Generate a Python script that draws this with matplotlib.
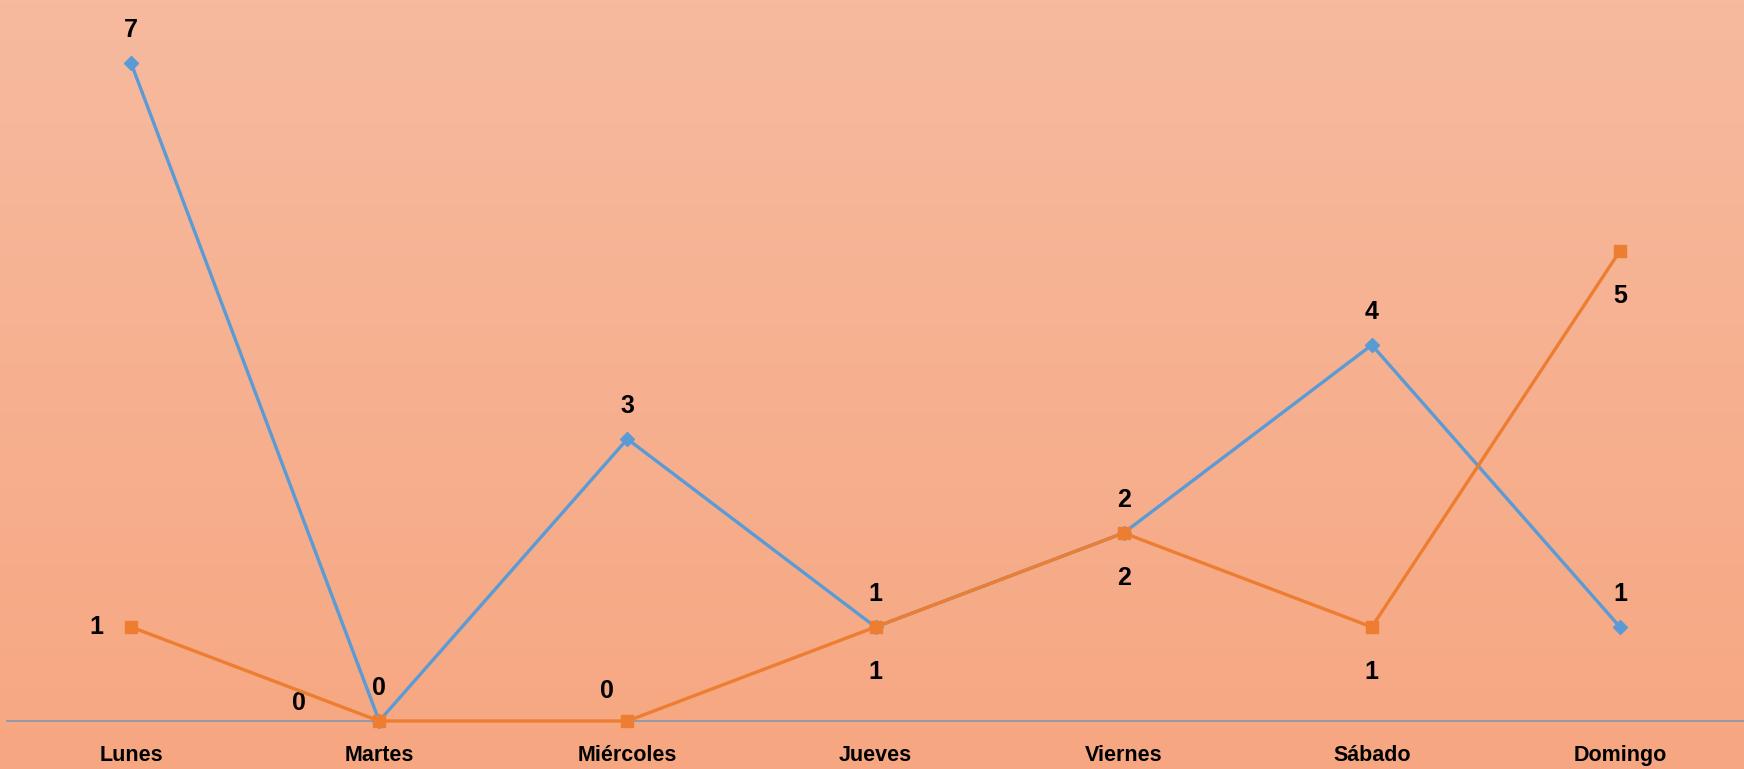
import matplotlib
matplotlib.use("Agg")
import matplotlib.pyplot as plt
import numpy as np
from matplotlib.colors import LinearSegmentedColormap

dias = ["Lunes", "Martes", "Miércoles", "Jueves", "Viernes", "Sábado", "Domingo"]
serie_azul = [7, 0, 3, 1, 2, 4, 1]
serie_naranja = [1, 0, 0, 1, 2, 1, 5]

# posiciones de etiquetas (dx, dy en pixeles, ha)
pos_azul = [(0, 33, "center")] * 7
pos_naranja = [(-28, 0, "right"), (-80, 18, "center"), (-20, 30, "center"),
               (0, -45, "center"), (0, -45, "center"), (0, -45, "center"), (0, -45, "center")]

fig = plt.figure(figsize=(17.44, 7.69), dpi=100)

# fondo degradado
bg = fig.add_axes([0, 0, 1, 1])
cmap = LinearSegmentedColormap.from_list("fondo", ["#F7BA9F", "#F6A781"])
bg.imshow(np.linspace(0, 1, 256).reshape(-1, 1), aspect="auto", cmap=cmap, extent=[0, 1, 0, 1])
bg.axis("off")

ax = fig.add_axes([7 / 1744, 48 / 769, 1 - 7 / 1744, 721 / 769])
ax.patch.set_alpha(0)
x = np.arange(len(dias))

ax.plot(x, serie_azul, color="#5B9BD5", lw=2.4, marker="D", ms=7, clip_on=False, zorder=3)
ax.plot(x, serie_naranja, color="#ED7D31", lw=2.4, marker="s", ms=8.5, clip_on=False, zorder=4)

fuente = dict(fontsize=18, fontweight="bold", color="black", family="Liberation Sans")
for i, v in enumerate(serie_azul):
    dx, dy, ha = pos_azul[i]
    ax.annotate(str(v), (x[i], v), xytext=(dx, dy), textcoords="offset pixels",
                ha=ha, va="center", annotation_clip=False, **fuente)
for i, v in enumerate(serie_naranja):
    dx, dy, ha = pos_naranja[i]
    ax.annotate(str(v), (x[i], v), xytext=(dx, dy), textcoords="offset pixels",
                ha=ha, va="center", annotation_clip=False, **fuente)

ax.set_xlim(-0.5, 6.5)
ax.set_ylim(0, 721 / 94)
ax.set_yticks([])
ax.set_xticks(x)
ax.set_xticklabels(dias, fontsize=15.5, fontweight="bold", family="Liberation Sans")
ax.tick_params(axis="x", length=0, pad=17)
for s in ["top", "right", "left"]:
    ax.spines[s].set_visible(False)
ax.spines["bottom"].set_color("#8497B0")
ax.spines["bottom"].set_linewidth(1.2)

fig.savefig("out.png", dpi=100)
